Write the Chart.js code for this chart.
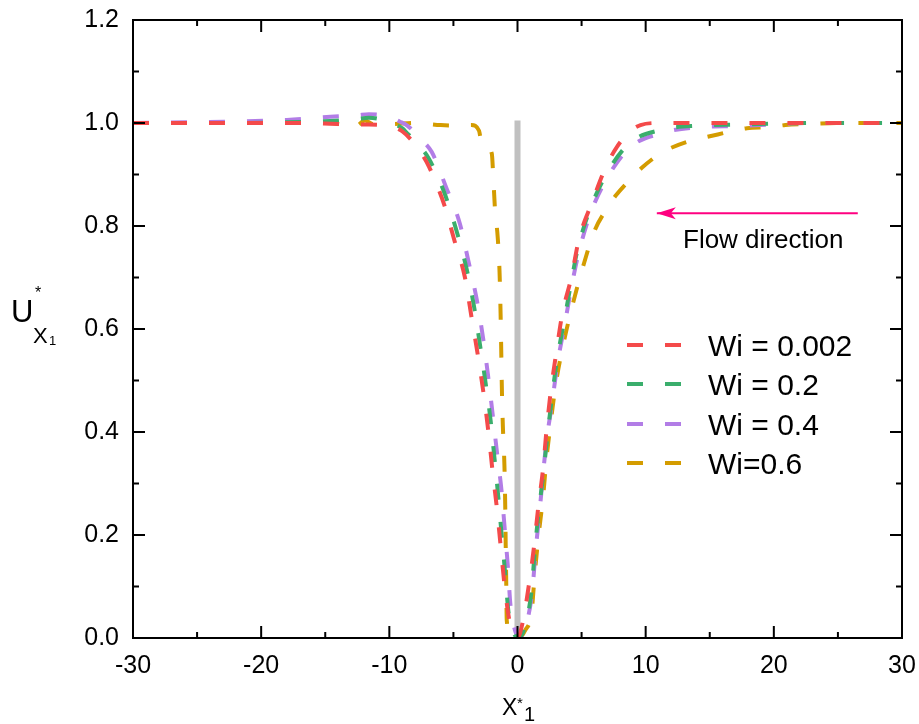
<!DOCTYPE html>
<html lang="en">
<head>
  <meta charset="UTF-8">
  <title>Velocity profile along the centreline</title>
  <script src="https://cdn.jsdelivr.net/npm/chart.js@4"></script>
  <style>
    body { margin: 0; background: #fff; }
    #wrap { width: 919px; height: 724px; }
  </style>
</head>
<body>
<div id="wrap"><canvas id="chart" width="919" height="724"></canvas></div>
<script>
  // series labels and colours
  const seriesLabels = ['Wi = 0.002', 'Wi = 0.2', 'Wi = 0.4', 'Wi=0.6'];
  const seriesColors = ['#f44a4a', '#3aae6c', '#b27de6', '#d49c00'];

  // Wi = 0.002
  const xWi002 = [-30, -22, -17, -14, -12, -10.5, -9.6, -9.0, -8.4, -7.6, -6.9, -6.3, -5.7, -4.9, -4.1, -3.6, -3.1, -2.65, -2.27, -1.95, -1.6, -1.3, -1.0, -0.6, -0.25, 0, 0.4, 0.9, 1.3, 1.6, 2.0, 2.25, 2.6, 3.0, 3.5, 4.2, 4.8, 5.8, 6.9, 7.8, 8.7, 9.6, 11, 14, 20, 30];
  const yWi002 = [1.0, 1.0, 1.0, 0.998, 0.997, 0.996, 0.992, 0.984, 0.97, 0.945, 0.915, 0.88, 0.84, 0.77, 0.70, 0.625, 0.55, 0.475, 0.40, 0.325, 0.25, 0.175, 0.10, 0.03, 0.006, 0.0, 0.03, 0.105, 0.18, 0.25, 0.33, 0.40, 0.48, 0.55, 0.63, 0.70, 0.775, 0.845, 0.915, 0.955, 0.982, 0.996, 1.0, 1.0, 1.0, 1.0];

  // Wi = 0.2
  const xWi02 = [-30, -22, -17, -14.6, -12.5, -11.6, -10.5, -9.6, -9.0, -8.6, -7.8, -6.9, -5.7, -4.75, -4.0, -3.4, -2.95, -2.5, -2.1, -1.8, -1.5, -1.25, -1.0, -0.7, -0.3, 0.1, 0.55, 1.1, 1.35, 1.65, 2.0, 2.3, 2.65, 3.05, 3.6, 4.15, 4.65, 5.55, 6.85, 8.7, 11.1, 14.2, 17.2, 20.5, 24, 30];
  const yWi02 = [1.0, 1.0, 1.002, 1.004, 1.008, 1.01, 1.006, 0.997, 0.99, 0.98, 0.96, 0.93, 0.864, 0.79, 0.72, 0.645, 0.573, 0.497, 0.423, 0.35, 0.274, 0.204, 0.136, 0.05, 0.01, 0.0, 0.02, 0.093, 0.17, 0.245, 0.315, 0.385, 0.46, 0.535, 0.61, 0.685, 0.75, 0.825, 0.897, 0.96, 0.986, 0.995, 0.997, 0.999, 1.0, 1.0];

  // Wi = 0.4
  const xWi04 = [-30, -22, -18, -14.6, -12.5, -11.6, -10.5, -10, -9.2, -8.6, -7.6, -6.7, -5.55, -4.5, -3.85, -3.2, -2.7, -2.3, -1.95, -1.6, -1.25, -1.0, -0.75, -0.55, -0.2, 0.15, 0.6, 1.15, 1.4, 1.7, 2.25, 2.7, 3.1, 3.65, 4.2, 4.7, 5.6, 6.9, 8.7, 11.2, 14.2, 17.2, 20.3, 23, 30];
  const yWi04 = [1.0, 1.003, 1.006, 1.012, 1.015, 1.017, 1.015, 1.012, 1.003, 0.995, 0.97, 0.944, 0.874, 0.805, 0.734, 0.66, 0.585, 0.51, 0.437, 0.36, 0.287, 0.213, 0.138, 0.064, 0.015, 0.0, 0.02, 0.09, 0.165, 0.24, 0.38, 0.456, 0.53, 0.604, 0.68, 0.74, 0.818, 0.889, 0.951, 0.98, 0.992, 0.994, 0.998, 1.0, 1.0];

  // Wi = 0.6
  const xWi06 = [-30, -20, -15, -14, -13.3, -12.5, -11.9, -11.3, -10, -8, -6, -4.5, -3.6, -3.0, -2.8, -2.4, -2.0, -1.9, -1.75, -1.55, -1.4, -1.32, -1.27, -1.22, -1.14, -1.02, -0.96, -0.92, -0.88, -0.84, -0.55, 0.1, 0.6, 1.1, 1.35, 1.65, 2.0, 2.25, 2.6, 3.0, 3.6, 4.3, 5.1, 6.0, 7.0, 7.7, 8.9, 9.7, 11.1, 12.1, 13.7, 14.8, 16.7, 17.9, 19.7, 20.9, 22.6, 25, 30];
  const yWi06 = [1.0, 1.0, 1.0, 0.998, 0.99, 0.995, 1.005, 0.998, 0.998, 1.0, 0.996, 0.995, 0.996, 0.985, 0.96, 0.955, 0.94, 0.9, 0.83, 0.78, 0.71, 0.63, 0.56, 0.485, 0.41, 0.335, 0.26, 0.18, 0.11, 0.035, 0.005, 0.0, 0.015, 0.05, 0.125, 0.2, 0.275, 0.345, 0.42, 0.495, 0.573, 0.647, 0.72, 0.79, 0.835, 0.86, 0.893, 0.913, 0.94, 0.953, 0.967, 0.973, 0.984, 0.99, 0.992, 0.996, 0.998, 1.0, 1.0];

  // grey marker at the contraction, and the flow arrow
  const barX = [0, 0];
  const barY = [0, 1.005];
  const arrowX = [26.55, 10.87];
  const arrowY = [0.825, 0.825];

  // ticks
  const xMajor = [-30, -20, -10, 0, 10, 20, 30];
  const xMinor = [-25, -15, -5, 5, 15, 25];
  const yMajor = [0, 0.2, 0.4, 0.6, 0.8, 1.0, 1.2];
  const yMinor = [0.1, 0.3, 0.5, 0.7, 0.9, 1.1];

  const FONT = 'Arial, "Liberation Sans", sans-serif';

  function toPoints(xs, ys) {
    return xs.map((x, i) => ({ x: x, y: ys[i] }));
  }

  const curves = [[xWi002, yWi002], [xWi02, yWi02], [xWi04, yWi04], [xWi06, yWi06]];

  const datasets = curves.map((c, i) => ({
    label: seriesLabels[i],
    data: toPoints(c[0], c[1]),
    borderColor: seriesColors[i],
    borderWidth: 4,
    borderDash: [16, 22],
    borderCapStyle: 'butt',
    showLine: true,
    pointRadius: 0,
    cubicInterpolationMode: 'monotone',
    order: 1
  }));

  datasets.push({
    label: 'bar',
    data: toPoints(barX, barY),
    borderColor: '#c0c0c0',
    borderWidth: 6,
    showLine: true,
    pointRadius: 0,
    order: 10
  });

  datasets.push({
    label: 'arrow',
    data: toPoints(arrowX, arrowY),
    borderColor: '#ff0080',
    borderWidth: 2,
    showLine: true,
    pointRadius: 0,
    order: 0
  });

  // frame, inward ticks, titles, legend and arrow head
  const decorPlugin = {
    id: 'decor',
    afterDatasetsDraw(chart) {
      const ctx = chart.ctx;
      const a = chart.chartArea;
      const xs = chart.scales.x, ys = chart.scales.y;
      ctx.save();
      ctx.strokeStyle = '#000';
      ctx.lineWidth = 2;
      ctx.strokeRect(a.left, a.top, a.right - a.left, a.bottom - a.top);

      function xTick(v, len) {
        const px = xs.getPixelForValue(v);
        ctx.beginPath();
        ctx.moveTo(px, a.bottom); ctx.lineTo(px, a.bottom - len);
        ctx.moveTo(px, a.top); ctx.lineTo(px, a.top + len);
        ctx.stroke();
      }
      function yTick(v, len) {
        const py = ys.getPixelForValue(v);
        ctx.beginPath();
        ctx.moveTo(a.left, py); ctx.lineTo(a.left + len, py);
        ctx.moveTo(a.right, py); ctx.lineTo(a.right - len, py);
        ctx.stroke();
      }
      xMajor.forEach(v => xTick(v, 12));
      xMinor.forEach(v => xTick(v, 6));
      yMajor.forEach(v => yTick(v, 12));
      yMinor.forEach(v => yTick(v, 6));

      // arrow head at the tip of the flow arrow
      const tipX = xs.getPixelForValue(arrowX[1]);
      const tipY = ys.getPixelForValue(arrowY[1]);
      ctx.fillStyle = '#ff0080';
      ctx.beginPath();
      ctx.moveTo(tipX, tipY);
      ctx.lineTo(tipX + 19, tipY - 6);
      ctx.lineTo(tipX + 14, tipY);
      ctx.lineTo(tipX + 19, tipY + 6);
      ctx.closePath();
      ctx.fill();

      ctx.fillStyle = '#000';
      ctx.textBaseline = 'alphabetic';
      ctx.textAlign = 'left';
      ctx.font = '26px ' + FONT;
      ctx.fillText('Flow direction', 683, 248);

      // legend
      const rowY = [345, 384, 424, 463];
      chart.data.datasets.slice(0, 4).forEach((ds, i) => {
        ctx.strokeStyle = ds.borderColor;
        ctx.lineWidth = 4;
        ctx.setLineDash(ds.borderDash);
        ctx.beginPath();
        ctx.moveTo(627, rowY[i]);
        ctx.lineTo(682, rowY[i]);
        ctx.stroke();
        ctx.setLineDash([]);
        ctx.fillStyle = '#000';
        ctx.font = '30px ' + FONT;
        ctx.fillText(ds.label, 708, rowY[i] + 11);
      });

      // y axis title: U*_{X1}
      ctx.fillStyle = '#000';
      ctx.font = '31px ' + FONT;
      ctx.fillText('U', 11, 322);
      ctx.font = '16px ' + FONT;
      ctx.fillText('*', 35, 298);
      ctx.font = '22px ' + FONT;
      ctx.fillText('X', 33, 343);
      ctx.font = '13px ' + FONT;
      ctx.fillText('1', 49, 345);

      // x axis title: X*_1
      ctx.font = '23px ' + FONT;
      ctx.fillText('X', 502, 715);
      ctx.font = '15px ' + FONT;
      ctx.fillText('*', 517, 708);
      ctx.font = '20px ' + FONT;
      ctx.fillText('1', 524, 721);
      ctx.restore();
    }
  };

  const ctx = document.getElementById('chart');
  new Chart(ctx, {
    type: 'scatter',
    data: { datasets: datasets },
    options: {
      responsive: false,
      animation: false,
      layout: { padding: { top: 20, right: 17, left: 0, bottom: 0 } },
      plugins: { legend: { display: false }, tooltip: { enabled: false } },
      scales: {
        x: {
          type: 'linear',
          min: -30,
          max: 30,
          afterBuildTicks: s => { s.ticks = xMajor.map(v => ({ value: v })); },
          afterFit: s => { s.height = 86; s.paddingLeft = 0; s.paddingRight = 0; },
          ticks: {
            color: '#000',
            font: { size: 25, family: FONT },
            padding: 13,
            maxRotation: 0,
            callback: v => String(v)
          },
          grid: { display: false, drawTicks: false },
          border: { display: false }
        },
        y: {
          type: 'linear',
          min: 0,
          max: 1.2,
          afterBuildTicks: s => { s.ticks = yMajor.map(v => ({ value: v })); },
          afterFit: s => { s.width = 133; s.paddingTop = 0; s.paddingBottom = 0; },
          ticks: {
            color: '#000',
            font: { size: 25, family: FONT },
            padding: 14,
            callback: v => v.toFixed(1)
          },
          grid: { display: false, drawTicks: false },
          border: { display: false }
        }
      }
    },
    plugins: [decorPlugin]
  });
</script>
</body>
</html>
